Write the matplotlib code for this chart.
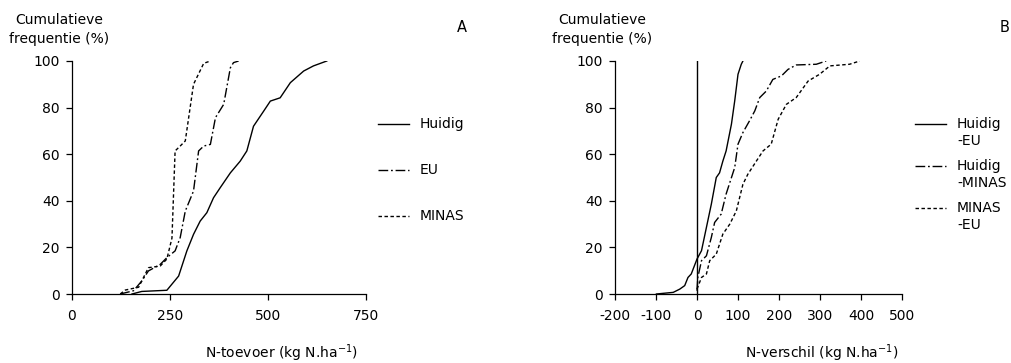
import matplotlib.pyplot as plt
from matplotlib.lines import Line2D

plt.rcParams['font.family'] = ['DejaVu Sans']
plt.rcParams['axes.unicode_minus'] = False
plt.rcParams['font.size'] = 10

# panel A: N-toevoer (kg N/ha) vs cumulatieve frequentie (%)
huidig_x = [153, 178, 242, 272, 293, 310, 327, 344, 361, 378, 404, 429, 446,
            463, 489, 506, 531, 557, 591, 616, 650]
huidig_y = [0, 1.1, 1.6, 7.7, 18.5, 25.6, 31.3, 34.9, 41.3, 45.6, 52, 57, 61.4,
            72, 78.5, 82.8, 84.2, 90.7, 95.7, 97.9, 100]
eu_x = [123, 157, 178, 195, 225, 242, 263, 276, 289, 310, 323, 336, 353, 366,
        387, 404, 412, 425]
eu_y = [0, 1.4, 5.6, 9.9, 12.7, 15.6, 18.5, 24.2, 35.6, 44.2, 61.4, 63.5, 64.2,
        75.7, 81.4, 97.1, 99.3, 100]
minas_x = [123, 136, 170, 195, 225, 242, 255, 263, 276, 289, 310, 336, 353]
minas_y = [0, 1.7, 2.9, 11.3, 12, 15, 24, 61.4, 63.5, 65.7, 90, 99, 100]

# panel B: N-verschil (kg N/ha)
h_eu_x = [-99, -58, -42, -30, -22, -14, 0, 11, 23, 35, 47, 55, 63, 71, 84, 92,
          100, 108, 112]
h_eu_y = [0, 0.7, 2.1, 3.6, 7.1, 8.6, 15, 18.6, 28.6, 38.6, 50, 52, 57, 61.4,
          72.9, 82.9, 94.3, 98.6, 100]
h_minas_x = [0, 2, 11, 23, 35, 43, 59, 71, 92, 100, 112, 128, 141, 153, 169,
             185, 206, 222, 242, 291, 315]
h_minas_y = [1.4, 7.1, 14.3, 16.4, 24.3, 30.7, 34.3, 42.9, 54.3, 64.3, 69.3,
             74.3, 78.6, 84.3, 87.1, 92.1, 93.6, 96.4, 98.3, 98.6, 100]
m_eu_x = [0, 11, 23, 31, 47, 63, 80, 96, 112, 124, 145, 161, 181, 198, 218,
          242, 271, 299, 324, 372, 397]
m_eu_y = [2.1, 7.1, 8.6, 14.3, 17.1, 25.7, 30, 35.7, 47.1, 51.4, 57.1, 61.4,
          64.3, 75, 81.4, 84.3, 91.4, 94.3, 97.9, 98.6, 100]

DASHDOT = (0, (7, 2, 1.3, 2))
DASHED = (0, (2.5, 1.8))
W, H = 1011, 363

fig = plt.figure(figsize=(W / 100, H / 100), dpi=100)
axA = fig.add_axes([72 / W, 1 - 294 / H, 294 / W, 233 / H])
axB = fig.add_axes([615 / W, 1 - 294 / H, 287 / W, 233 / H])

axA.plot(huidig_x, huidig_y, color='black', lw=1.0)
axA.plot(eu_x, eu_y, color='black', lw=1.0, linestyle=DASHDOT)
axA.plot(minas_x, minas_y, color='black', lw=1.0, linestyle=DASHED)
axA.set_xlim(0, 750)
axA.set_xticks([0, 250, 500, 750])

axB.plot(h_eu_x, h_eu_y, color='black', lw=1.0)
axB.plot(h_minas_x, h_minas_y, color='black', lw=1.0, linestyle=DASHDOT)
axB.plot(m_eu_x, m_eu_y, color='black', lw=1.0, linestyle=DASHED)
axB.axvline(0, color='black', lw=1.0)
axB.set_xlim(-200, 500)
axB.set_xticks(range(-200, 501, 100))

for ax in (axA, axB):
    ax.set_ylim(0, 100)
    ax.set_yticks(range(0, 101, 20))
    for s in ('top', 'right'):
        ax.spines[s].set_visible(False)
    for s in ('left', 'bottom'):
        ax.spines[s].set_linewidth(0.9)
    ax.tick_params(direction='out', length=4, width=0.9, labelsize=10)
    ax.tick_params(axis='x', pad=7)
    ax.tick_params(axis='y', pad=5)

# labels
for x0 in (72, 615):
    fig.text((x0 - 13) / W, 1 - 29.5 / H, 'Cumulatieve\nfrequentie (%)',
             ha='center', va='center', linespacing=1.45, fontsize=10)
fig.text(462 / W, 1 - 27 / H, 'A', ha='center', va='center', fontsize=10.5)
fig.text(1005 / W, 1 - 27 / H, 'B', ha='center', va='center', fontsize=10.5)
fig.text(281 / W, 1 - 353 / H, r'N-toevoer (kg N.ha$^{\mathrm{-1}}$)',
         ha='center', va='center', fontsize=10)
fig.text(822 / W, 1 - 353 / H, r'N-verschil (kg N.ha$^{\mathrm{-1}}$)',
         ha='center', va='center', fontsize=10)

# hand-made legends
def legend_entry(x0, y, label, style):
    fig.add_artist(Line2D([x0 / W, (x0 + 31) / W], [1 - y / H, 1 - y / H],
                          color='black', lw=1.0, linestyle=style))
    fig.text((x0 + 42) / W, 1 - (y - 7) / H, label, ha='left', va='top',
             linespacing=1.3, fontsize=10)

legend_entry(378, 124, 'Huidig', '-')
legend_entry(378, 170, 'EU', DASHDOT)
legend_entry(378, 216, 'MINAS', DASHED)
legend_entry(915, 124, 'Huidig\n-EU', '-')
legend_entry(915, 166, 'Huidig\n-MINAS', DASHDOT)
legend_entry(915, 208, 'MINAS\n-EU', DASHED)

fig.savefig('out.png', dpi=100)
